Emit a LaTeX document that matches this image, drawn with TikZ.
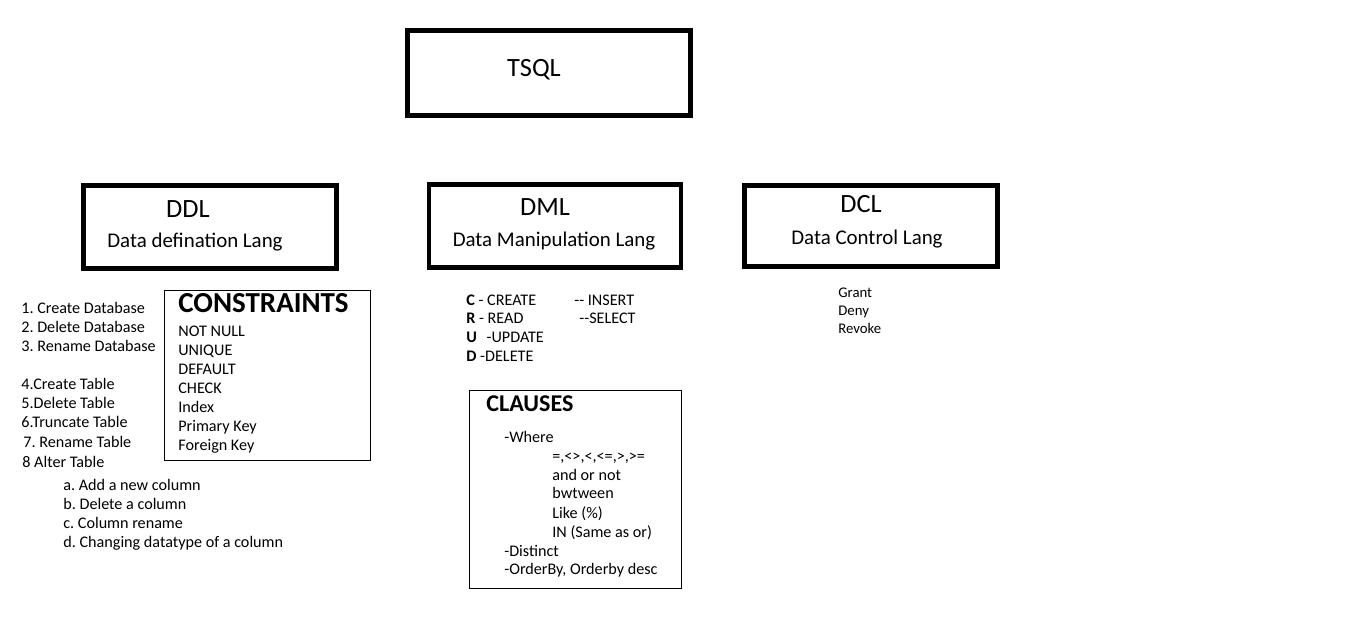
\documentclass[tikz,border=0pt]{standalone}
\usepackage{fontspec}
\setmainfont{Carlito}
\usepackage{tikz}
\usetikzlibrary{positioning}
\frenchspacing

\begin{document}
\begin{tikzpicture}[
    % GLOBAL CFG
    x=0.02cm, y=-0.02cm,
    % Styles
    bigbox/.style={% For the main boxes
        rectangle,
        draw,
        line width=2.8pt,
        },
    listbox/.style={% For the thin boxes
        rectangle,
        draw,
        line width=0.6pt,
        },
    title/.style={% Big names in the boxes
        anchor=base,
        inner sep=0pt,
        font=\fontsize{15}{18}\selectfont
        },
    subtitle/.style={% Long names in the boxes
        anchor=base,
        inner sep=0pt,
        font=\fontsize{11.9}{14}\selectfont
        },
    heading/.style={% Bold headings of the thin boxes
        anchor=base west,
        inner sep=0pt,
        font=\bfseries\fontsize{16.5}{19}\selectfont
        },
    item/.style={% Lines of the lists
        anchor=base west,
        inner sep=0pt,
        font=\fontsize{9.2}{11}\selectfont
        },
    smallitem/.style={% Lines of the DCL list
        anchor=base west,
        inner sep=0pt,
        font=\fontsize{8.4}{10}\selectfont
        },
    ]
    \useasboundingbox (0,0) rectangle (1366,621);

    % Draw the main boxes
    \node [bigbox, minimum width=5.66cm, minimum height=1.7cm] (tsql) at (549,73) {};
    \node [bigbox, minimum width=5.06cm, minimum height=1.66cm] (ddl) at (210,227) {};
    \node [bigbox, minimum width=5.04cm, minimum height=1.65cm] (dml) at (555,226) {};
    \node [bigbox, minimum width=5.06cm, minimum height=1.62cm] (dcl) at (871,226) {};

    % Names in the boxes
    \node [title] (tsqlt) at (534,77) {TSQL};
    \node [title] (ddlt) at (188,218) {DDL};
    \node [subtitle] (ddls) at (195,248) {Data defination Lang};
    \node [title] (dmlt) at (545,216) {DML};
    \node [subtitle] (dmls) at (554,247) {Data Manipulation Lang};
    \node [title] (dclt) at (861,213) {DCL};
    \node [subtitle] (dcls) at (867,245) {Data Control Lang};

    % DDL list, named as basis db#, tb#, col#
    \node [item] (db1) at (21,314) {1. Create Database};
    \node [item] (db2) at (21,333) {2. Delete Database};
    \node [item] (db3) at (21,352) {3. Rename Database};
    \node [item] (tb4) at (21,390) {4.Create Table};
    \node [item] (tb5) at (21,409) {5.Delete Table};
    \node [item] (tb6) at (21,428) {6.Truncate Table};
    \node [item] (tb7) at (23,447) {7. Rename Table};
    \node [item] (tb8) at (22,467) {8 Alter Table};
    \node [item] (cola) at (63,490) {a. Add a new column};
    \node [item] (colb) at (63,509) {b. Delete a column};
    \node [item] (colc) at (63,528) {c. Column rename};
    \node [item] (cold) at (63,547) {d. Changing datatype of a column};

    % Constraints
    \node [listbox, minimum width=4.12cm, minimum height=3.4cm] (cbox) at (267.5,375.5) {};
    \node [heading] (cons) at (178,313) {CONSTRAINTS};
    \node [item] (con1) at (178,337) {NOT NULL};
    \node [item] (con2) at (178,356) {UNIQUE};
    \node [item] (con3) at (178,375) {DEFAULT};
    \node [item] (con4) at (178,394) {CHECK};
    \node [item] (con5) at (178,413) {Index};
    \node [item] (con6) at (178,432) {Primary Key};
    \node [item] (con7) at (178,451) {Foreign Key};

    % DML list
    \node [item] (crudc) at (466,306) {\textbf{C} - CREATE};
    \node [item] (crudr) at (466,324) {\textbf{R} - READ};
    \node [item] (crudu) at (466,343) {\textbf{U}\hspace{0.6em}-UPDATE};
    \node [item] (crudd) at (466,362) {\textbf{D} -DELETE};
    \node [item] (ins) at (574,306) {-{}- INSERT};
    \node [item] (sel) at (579,324) {-{}-SELECT};

    % Clauses
    \node [listbox, minimum width=4.24cm, minimum height=3.96cm] (clbox) at (575.5,489.5) {};
    \node [heading, font=\bfseries\fontsize{13.7}{16}\selectfont] (claus) at (486,412) {CLAUSES};
    \node [item] (where) at (504,442) {-Where};
    \node [item] (op1) at (552,461) {=,<>,<,<=,>,>=};
    \node [item] (op2) at (552,480) {and or not};
    \node [item] (op3) at (552,499) {bwtween};
    \node [item] (op4) at (552,518) {Like (\%)};
    \node [item] (op5) at (552,537) {IN (Same as or)};
    \node [item] (dist) at (504,556) {-Distinct};
    \node [item] (ord) at (504,574) {-OrderBy, Orderby desc};

    % DCL list
    \node [smallitem] (grant) at (838,298) {Grant};
    \node [smallitem] (deny) at (838,316) {Deny};
    \node [smallitem] (revoke) at (838,334) {Revoke};

\end{tikzpicture}
\end{document}
